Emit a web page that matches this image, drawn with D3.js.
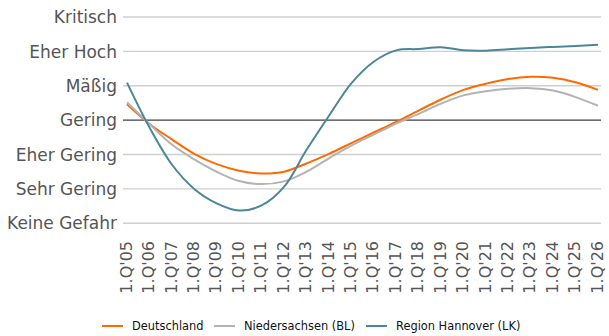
<!DOCTYPE html>
<html>
<head>
<meta charset="utf-8">
<script src="https://cdn.jsdelivr.net/npm/d3@7"></script>
<style>
  html, body { margin: 0; padding: 0; background: #fff; }
  svg { display: block; font-family: "DejaVu Sans", sans-serif; }
</style>
</head>
<body>
<svg id="chart" width="609" height="336"></svg>
<script>
// Risk levels on the y axis (index = value)
const levels = ["Keine Gefahr", "Sehr Gering", "Eher Gering", "Gering", "Mäßig", "Eher Hoch", "Kritisch"];

// Quarter labels on the x axis
const quarters = ["1.Q'05","1.Q'06","1.Q'07","1.Q'08","1.Q'09","1.Q'10","1.Q'11","1.Q'12","1.Q'13","1.Q'14","1.Q'15",
                  "1.Q'16","1.Q'17","1.Q'18","1.Q'19","1.Q'20","1.Q'21","1.Q'22","1.Q'23","1.Q'24","1.Q'25","1.Q'26"];

// Series values (0 = Keine Gefahr … 6 = Kritisch)
const deutschland   = [3.46, 2.89, 2.44, 2.02, 1.72, 1.53, 1.45, 1.50, 1.74, 2.02, 2.33, 2.64, 2.95, 3.28, 3.60, 3.88, 4.06, 4.20, 4.26, 4.23, 4.10, 3.88];
const niedersachsen = [3.52, 2.89, 2.29, 1.86, 1.50, 1.23, 1.14, 1.22, 1.50, 1.89, 2.26, 2.58, 2.90, 3.18, 3.48, 3.72, 3.84, 3.91, 3.93, 3.86, 3.67, 3.42];
const hannover      = [4.09, 2.79, 1.71, 1.00, 0.58, 0.37, 0.52, 1.06, 2.13, 3.12, 4.07, 4.70, 5.03, 5.07, 5.12, 5.03, 5.02, 5.06, 5.10, 5.13, 5.16, 5.19];

const seriesNames  = ["Deutschland", "Niedersachsen (BL)", "Region Hannover (LK)"];
const seriesColors = ["#ff6a00", "#b3b3b3", "#4b8699"];
const seriesData   = [deutschland, niedersachsen, hannover];

const svg = d3.select("#chart");

const x = d3.scalePoint().domain(quarters).range([127, 598]);
const y = d3.scaleLinear().domain([0, 6]).range([223.3, 17]);

// Horizontal grid; the "Gering" level is emphasised
const gridG = svg.append("g");
gridG.selectAll("line")
  .data(levels)
  .join("line")
  .attr("x1", 123).attr("x2", 601)
  .attr("y1", (d, i) => y(i)).attr("y2", (d, i) => y(i))
  .attr("stroke", (d, i) => i === 3 ? "#3f3f3f" : "#cfcfcf")
  .attr("stroke-width", (d, i) => i === 3 ? 1.2 : 1.4);

// Y axis labels
svg.append("g").selectAll("text")
  .data(levels)
  .join("text")
  .attr("x", 117)
  .attr("y", (d, i) => y(i))
  .attr("dy", "0.36em")
  .attr("text-anchor", "end")
  .attr("font-size", 17)
  .attr("fill", "#555")
  .text(d => d);

// X axis labels, rotated
svg.append("g").selectAll("text")
  .data(quarters)
  .join("text")
  .attr("transform", d => `translate(${x(d) - 1},241) rotate(-90)`)
  .attr("dy", "0.36em")
  .attr("text-anchor", "end")
  .attr("font-size", 16)
  .attr("fill", "#555")
  .text(d => d);

// Lines
const line = d3.line()
  .x((d, i) => x(quarters[i]))
  .y(d => y(d))
  .curve(d3.curveCatmullRom.alpha(0.5));

svg.append("g").selectAll("path")
  .data(seriesData)
  .join("path")
  .attr("d", d => line(d))
  .attr("fill", "none")
  .attr("stroke", (d, i) => seriesColors[i])
  .attr("stroke-width", 2)
  .attr("stroke-linejoin", "round");

// Legend
const legendX = [102, 214, 366];
const legend = svg.append("g");
seriesNames.forEach((name, i) => {
  legend.append("line")
    .attr("x1", legendX[i]).attr("x2", legendX[i] + 21)
    .attr("y1", 326).attr("y2", 326)
    .attr("stroke", seriesColors[i])
    .attr("stroke-width", 2);
  legend.append("text")
    .attr("x", legendX[i] + 30)
    .attr("y", 326)
    .attr("dy", "0.36em")
    .attr("font-size", 11.4)
    .attr("fill", "#111")
    .text(name);
});
</script>
</body>
</html>
